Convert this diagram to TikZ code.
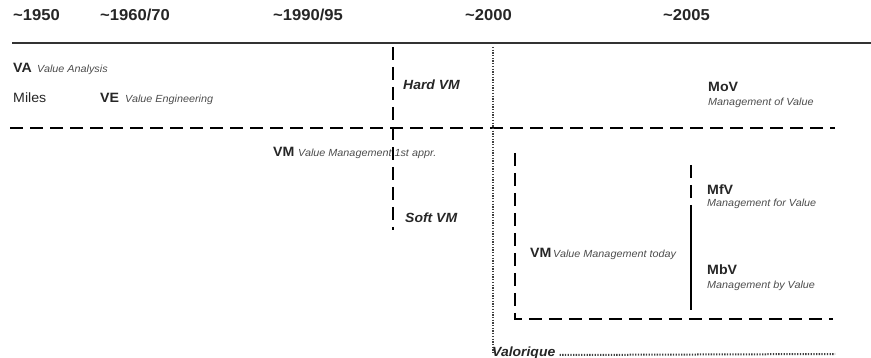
\documentclass[tikz,border=0pt]{standalone}
\usepackage{fontspec}
\setmainfont{Liberation Sans}[FakeStretch=1.05]
\begin{document}
\begin{tikzpicture}[x=1pt,y=-1pt,
  lbl/.style={inner sep=0pt,anchor=base west,text=black!85},
  year/.style={lbl,font=\fontsize{15.8}{17}\selectfont\bfseries},
  abbr/.style={lbl,font=\fontsize{13.5}{15}\selectfont\bfseries},
  plain/.style={lbl,font=\fontsize{13.5}{15}\selectfont},
  desc/.style={lbl,font=\fontsize{10.3}{12}\selectfont\itshape,text=black!70},
  era/.style={lbl,font=\fontsize{13.3}{15}\selectfont\bfseries\itshape},
  thickdash/.style={line width=2pt,dash pattern=on 13pt off 7pt},
  dotline/.style={line width=2pt,dash pattern=on 1.3pt off 1.4pt,black!75},
  solidline/.style={line width=1.2pt,black!80}]
\useasboundingbox (0,0) rectangle (871,358);
% years
\node[year] (y1950) at (13,21) {\textasciitilde1950};
\node[year] (y1960) at (100,21) {\textasciitilde1960/70};
\node[year] (y1990) at (273,21) {\textasciitilde1990/95};
\node[year] (y2000) at (465,21) {\textasciitilde2000};
\node[year] (y2005) at (663,21) {\textasciitilde2005};
% coordinates
\coordinate (topL) at (12,43);
\coordinate (topR) at (871,43);
\coordinate (midL) at (10,128);
\coordinate (midR) at (835,128);
\coordinate (hvT) at (393,47);
\coordinate (hvB) at (393,230);
\coordinate (dvT) at (493,47);
\coordinate (dvB) at (493,353);
\coordinate (LT) at (515,153);
\coordinate (LC) at (515,319);
\coordinate (LR) at (833,319);
\coordinate (mT) at (691,165);
\coordinate (mM) at (691,216);
\coordinate (mB) at (691,310);
\coordinate (valR) at (835,354);
% lines
\draw[solidline] (topL) -- (topR);
\draw[thickdash] (midL) -- (midR);
\draw[thickdash] (hvT) -- (hvB);
\draw[dotline] (dvT) -- (dvB);
\draw[thickdash] (LT) -- (LC) -- (LR);
\draw[thickdash] (mT) -- (mM);
\draw[line width=1.6pt] (mM) -- (mB);
% labels
\node[abbr] (va) at (13,73) {VA};
\node[desc] (vad) at (37,73) {Value Analysis};
\node[plain] (miles) at (13,103) {Miles};
\node[abbr] (ve) at (100,103) {VE};
\node[desc] (ved) at (125,103) {Value Engineering};
\node[era] (hard) at (403,90) {Hard VM};
\node[abbr] (mov) at (708,92) {MoV};
\node[desc] (movd) at (708,106) {Management of Value};
\node[abbr] (vm1) at (273,157) {VM};
\node[desc] (vm1d) at (298,157) {Value Management 1st appr.};
\node[era] (soft) at (405,223) {Soft VM};
\node[abbr] (mfv) at (707,195) {MfV};
\node[desc] (mfvd) at (707,207) {Management for Value};
\node[abbr] (vm2) at (530,258) {VM};
\node[desc] (vm2d) at (553,258) {Value Management today};
\node[abbr] (mbv) at (707,275) {MbV};
\node[desc] (mbvd) at (707,289) {Management by Value};
\node[era] (valo) at (492,356) {Valorique};
\draw[dotline] (valo.base east) ++(4,-1) coordinate (valL) (valL) -- (valR);
\end{tikzpicture}
\end{document}
